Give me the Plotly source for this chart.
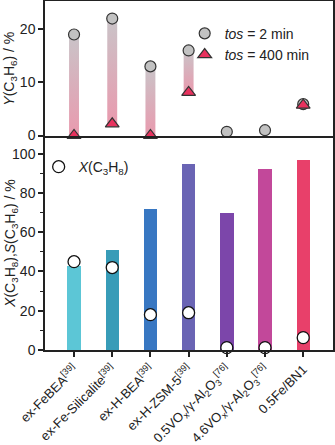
import plotly.graph_objects as go

# ---------------- data ----------------
categories = [
    "ex-FeBEA<sup>[39]</sup>",
    "ex-Fe-Silicalite<sup>[39]</sup>",
    "ex-H-BEA<sup>[39]</sup>",
    "ex-H-ZSM-5<sup>[39]</sup>",
    "0.5VO<sub>x</sub>/γ-Al<sub>2</sub>O<sub>3</sub><sup>[76]</sup>",
    "4.6VO<sub>x</sub>/γ-Al<sub>2</sub>O<sub>3</sub><sup>[76]</sup>",
    "0.5Fe/BN1",
]
yield_2min = [19.0, 22.0, 13.0, 16.0, 0.7, 1.0, 5.9]
yield_400min = [0.0, 2.2, 0.0, 8.1, None, None, 5.7]
sel_c3h6 = [43, 51, 72, 95, 70, 92, 97]
conv_c3h8 = [45, 42, 18, 19, 1.2, 1.2, 6.3]
bar_colors = ["#5cc6d6", "#389cb8", "#3877c2", "#6a64b4", "#7c46aa", "#c2489a", "#e8406a"]
top_ticks = [0, 10, 20]
bottom_ticks = [0, 20, 40, 60, 80, 100]

FONT = "Arial, Liberation Sans, sans-serif"
xs = list(range(len(categories)))

fig = go.Figure()

# gradient columns between 2 min and 400 min yields
half_w = 0.13
for i, (a, b) in enumerate(zip(yield_2min, yield_400min)):
    if b is None or abs(a - b) < 0.5:
        continue
    fig.add_trace(go.Scatter(
        x=[xs[i] - half_w, xs[i] + half_w, xs[i] + half_w, xs[i] - half_w, xs[i] - half_w],
        y=[b, b, a, a, b],
        mode="lines", fill="toself", line=dict(width=0),
        fillgradient=dict(type="vertical",
                          colorscale=[[0, "#e99aae"], [1, "#c9c4c8"]]),
        xaxis="x2", yaxis="y2", showlegend=False, hoverinfo="skip",
    ))

fig.add_trace(go.Scatter(
    x=xs, y=yield_2min, mode="markers", name="<i>tos</i> = 2 min",
    marker=dict(symbol="circle", size=11, color="#c2c2c2",
                line=dict(color="#333333", width=1.2)),
    xaxis="x2", yaxis="y2", legend="legend", cliponaxis=False,
))
fig.add_trace(go.Scatter(
    x=xs, y=yield_400min, mode="markers", name="<i>tos</i> = 400 min",
    marker=dict(symbol="triangle-up", size=12, color="#e8325e",
                line=dict(color="#333333", width=1.2)),
    xaxis="x2", yaxis="y2", legend="legend", cliponaxis=False,
))

# bottom panel
fig.add_trace(go.Bar(
    x=xs, y=sel_c3h6, width=0.35, marker=dict(color=bar_colors, line=dict(width=0)),
    showlegend=False, xaxis="x", yaxis="y",
))
fig.add_trace(go.Scatter(
    x=xs, y=conv_c3h8, mode="markers", name="<i>X</i>(C<sub>3</sub>H<sub>8</sub>)",
    marker=dict(symbol="circle", size=12, color="white",
                line=dict(color="#111111", width=1.3)),
    xaxis="x", yaxis="y", legend="legend2", cliponaxis=False,
))

axis_common = dict(showline=True, linecolor="#222222", linewidth=1.5,
                   showgrid=False, zeroline=False,
                   tickfont=dict(family=FONT, size=14, color="#222222"),
                   ticks="outside", tickcolor="#222222", tickwidth=1.5)

fig.update_layout(
    width=335, height=445,
    margin=dict(l=45, r=2, t=1, b=95, autoexpand=False),
    paper_bgcolor="white", plot_bgcolor="white",
    font=dict(family=FONT, size=14, color="#222222"),
    bargap=0,
    xaxis=dict(**{k: v for k, v in axis_common.items() if k != "tickfont"},
               tickfont=dict(family=FONT, size=13, color="#222222"),
               domain=[0, 1], anchor="y", range=[-0.76, 6.78],
               tickvals=xs, ticktext=categories, tickangle=-45, ticklen=5,
               mirror=False, automargin=False),
    yaxis=dict(**axis_common, domain=[0, 0.6103], anchor="x", range=[0, 108.5],
               tickvals=bottom_ticks, ticklen=5, mirror=True, automargin=False,
               minor=dict(ticks="outside", dtick=10, tick0=0, ticklen=3,
                          tickcolor="#222222", tickwidth=1.2)),
    xaxis2=dict(**{k: v for k, v in axis_common.items() if k != "ticks"},
                domain=[0, 1], anchor="y2", range=[-0.76, 6.78],
                showticklabels=False, ticks="", mirror=True),
    yaxis2=dict(**axis_common, domain=[0.6146, 1], anchor="x2", range=[0, 25.3],
                tickvals=top_ticks, ticklen=5, mirror=True, automargin=False),
    legend=dict(x=0.485, y=0.952, xanchor="left", yanchor="top",
                bgcolor="rgba(0,0,0,0)", font=dict(family=FONT, size=14),
                itemwidth=30),
    legend2=dict(x=-0.022, y=0.57, xanchor="left", yanchor="top",
                 bgcolor="rgba(0,0,0,0)", font=dict(family=FONT, size=14),
                 itemwidth=30),
    annotations=[
        dict(text="<i>Y</i>(C<sub>3</sub>H<sub>6</sub>) / %", xref="paper", yref="paper",
             x=-0.12, y=(0.6146 + 1) / 2, textangle=-90, showarrow=False,
             xanchor="center", yanchor="middle", font=dict(family=FONT, size=14)),
        dict(text="<i>X</i>(C<sub>3</sub>H<sub>8</sub>),<i>S</i>(C<sub>3</sub>H<sub>6</sub>) / %",
             xref="paper", yref="paper", x=-0.12, y=0.6103 / 2, textangle=-90,
             showarrow=False, xanchor="center", yanchor="middle",
             font=dict(family=FONT, size=14)),
    ],
)

fig.write_html("out.html",
               config={"displayModeBar": False},
               post_script="document.body.style.margin='0';"
                           "document.body.style.overflow='hidden';")
